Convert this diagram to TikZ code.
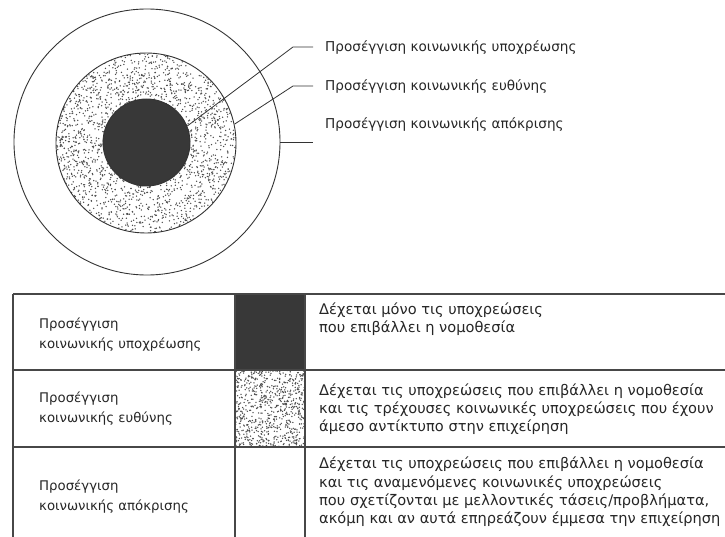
\documentclass[tikz,border=0pt]{standalone}
\usepackage{fontspec}
\setmainfont{DejaVu Sans}
\begin{document}
\begin{tikzpicture}[x=1pt,y=-1pt,
  ring/.style={circle,draw=black!80,line width=0.9pt,inner sep=0pt},
  lead/.style={draw=black!80,line width=0.8pt},
  rule/.style={draw=black!72,line width=1.4pt},
  lbl/.style={anchor=west,inner sep=0pt,font=\fontsize{13.6}{16}\selectfont,text=black!85},
  cellL/.style={anchor=west,inner sep=0pt,align=left,font=\fontsize{13.3}{20}\selectfont,text=black!85},
  cellR/.style={anchor=west,inner sep=0pt,align=left,font=\fontsize{14.6}{18.3}\selectfont,text=black!85},
  dotc/.style={fill=black!70}
]
\useasboundingbox (0,0) rectangle (725,537);
% stippled middle disc
\begin{scope}
  \clip (146,143) circle (90);
  \pgfmathsetseed{11}
  \foreach \i in {1,...,2800}{
    \pgfmathsetmacro\px{56+180*rnd}
    \pgfmathsetmacro\py{53+180*rnd}
    \fill[dotc] (\px,\py) circle (0.75);
  }
\end{scope}
\node[ring,minimum size=266pt] (outer) at (147,142) {};
\node[ring,minimum size=180pt] (middle) at (146,143) {};
\node[ring,minimum size=87pt,fill=black!78] (inner) at (146.5,142.5) {};
% labels
\node[lbl] (l1) at (325,47) {Προσέγγιση κοινωνικής υποχρέωσης};
\node[lbl] (l2) at (325,86) {Προσέγγιση κοινωνικής ευθύνης};
\node[lbl] (l3) at (325,124) {Προσέγγιση κοινωνικής απόκρισης};
\coordinate (e1) at (293,47);
\coordinate (e2) at (293,86);
\draw[lead] (inner.22) -- (e1) -- ([xshift=-12pt]l1.west);
\draw[lead] (middle.12) -- (e2) -- ([xshift=-12pt]l2.west);
\draw[lead] (outer.-0.4) -- ([xshift=-12pt]l3.west |- outer.-0.4);
% table shading
\fill[black!78] (235,294) rectangle (305,370);
\begin{scope}
  \clip (235,370) rectangle (305,447);
  \pgfmathsetseed{5}
  \foreach \i in {1,...,750}{
    \pgfmathsetmacro\px{235+70*rnd}
    \pgfmathsetmacro\py{370+77*rnd}
    \fill[dotc] (\px,\py) circle (0.75);
  }
\end{scope}
% table rules
\draw[rule] (13,294) -- (725,294);
\draw[rule] (13,370) -- (725,370);
\draw[rule] (13,447) -- (725,447);
\draw[rule] (13,294) -- (13,537);
\draw[rule] (235,294) -- (235,537);
\draw[rule] (305,294) -- (305,537);
% table text
\node[cellL] (a1) at (39,335) {Προσέγγιση\\κοινωνικής υποχρέωσης};
\node[cellL] (a2) at (39,409) {Προσέγγιση\\κοινωνικής ευθύνης};
\node[cellL] (a3) at (39,497) {Προσέγγιση\\κοινωνικής απόκρισης};
\node[cellR] (b1) at (319,319) {Δέχεται μόνο τις υποχρεώσεις\\που επιβάλλει η νομοθεσία};
\node[cellR] (b2) at (319,409) {Δέχεται τις υποχρεώσεις που επιβάλλει η νομοθεσία\\και τις τρέχουσες κοινωνικές υποχρεώσεις που έχουν\\άμεσο αντίκτυπο στην επιχείρηση};
\node[cellR] (b3) at (319,492) {Δέχεται τις υποχρεώσεις που επιβάλλει η νομοθεσία\\και τις αναμενόμενες κοινωνικές υποχρεώσεις\\που σχετίζονται με μελλοντικές τάσεις/προβλήματα,\\ακόμη και αν αυτά επηρεάζουν έμμεσα την επιχείρηση};
\end{tikzpicture}
\end{document}
